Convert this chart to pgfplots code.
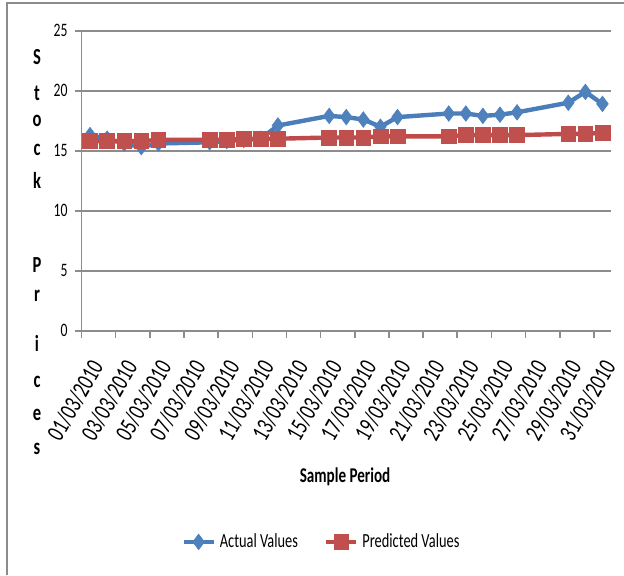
\documentclass[border=0pt]{standalone}
\usepackage{pgfplots}
\pgfplotsset{compat=1.18}
\usepackage{fontspec}
\setmainfont{Carlito}[FakeStretch=0.72]
\definecolor{actual}{HTML}{4A7EBB}
\definecolor{actualm}{HTML}{4F81BD}
\definecolor{pred}{HTML}{BE4B48}
\definecolor{predm}{HTML}{C0504D}
\definecolor{gridc}{HTML}{8C8C8C}
\begin{document}
\begin{tikzpicture}
\useasboundingbox (0,0) rectangle (312pt,287.5pt);
\draw[gridc, line width=1pt] (3.3pt,0pt) -- (3.3pt,286pt) -- (312pt,286pt);
\begin{axis}[
  at={(40.75pt,122.15pt)}, anchor=south west,
  scale only axis, width=264.75pt, height=150pt,
  xmin=0.5, xmax=31.5, ymin=0, ymax=25,
  axis x line*=bottom, axis y line*=left,
  axis line style={gridc, line width=0.8pt},
  tick align=outside, major tick length=3.5pt,
  tick style={gridc, line width=0.8pt},
  xtick={0.5,2.5,...,30.5}, xticklabels={},
  extra x ticks={1,3,...,31},
  extra x tick labels={01/03/2010,03/03/2010,05/03/2010,07/03/2010,09/03/2010,11/03/2010,13/03/2010,15/03/2010,17/03/2010,19/03/2010,21/03/2010,23/03/2010,25/03/2010,27/03/2010,29/03/2010,31/03/2010},
  extra x tick style={major tick length=0pt, grid=none,
    tick label style={xshift=4pt, yshift=-15pt, rotate=60, anchor=east, inner sep=1pt, font=\fontsize{12.5}{14}\selectfont}},
  ytick={0,5,...,25},
  ymajorgrids, major grid style={gridc, line width=0.8pt},
  y tick label style={font=\fontsize{9.5}{11}\selectfont},
  /pgf/number format/assume math mode=true,
  legend style={at={(0.455,-0.704)}, anchor=center, draw=none, fill=none,
    legend columns=2, font=\fontsize{10}{12}\selectfont,
    /tikz/every even column/.append style={column sep=11pt}},
  legend image code/.code={\draw[mark repeat=2,mark phase=2,#1] plot coordinates {(0pt,0pt) (7.5pt,0pt) (15pt,0pt)};},
]
\addplot[actual, line width=2.2pt, mark=diamond*, mark size=3.9pt,
  mark options={fill=actualm, draw=actualm, line width=0.3pt}] coordinates {
(1,16.3) (2,16.0) (3,15.6) (4,15.3) (5,15.6)
(8,15.7) (9,15.8) (10,15.9) (11,16.0) (12,17.1)
(15,17.9) (16,17.8) (17,17.6) (18,17.0) (19,17.8)
(22,18.1) (23,18.1) (24,17.9) (25,18.0) (26,18.2)
(29,19.0) (30,19.9) (31,18.9)
};
\addlegendentry{Actual Values}
\addplot[pred, line width=2.2pt, mark=square*, mark size=3.7pt,
  mark options={fill=predm, draw=predm, line width=0.3pt}] coordinates {
(1,15.8) (2,15.8) (3,15.8) (4,15.8) (5,15.9)
(8,15.9) (9,15.9) (10,16.0) (11,16.0) (12,16.0)
(15,16.1) (16,16.1) (17,16.1) (18,16.2) (19,16.2)
(22,16.2) (23,16.3) (24,16.3) (25,16.3) (26,16.3)
(29,16.4) (30,16.4) (31,16.5)
};
\addlegendentry{Predicted Values}
\end{axis}
\begin{scope}[every node/.style={font=\bfseries\fontsize{11.5}{12}\selectfont, inner sep=0pt}]
\node at (18.5pt,259pt) {S};
\node at (18.5pt,241pt) {t};
\node at (18.5pt,227pt) {o};
\node at (18.5pt,212.5pt) {c};
\node at (18.5pt,197.5pt) {k};
\node at (18.5pt,155pt) {P};
\node at (18.5pt,139.5pt) {r};
\node at (18.5pt,116pt) {i};
\node at (18.5pt,96.5pt) {c};
\node at (18.5pt,80pt) {e};
\node at (18.5pt,63pt) {s};
\node[font=\bfseries\fontsize{10.5}{12}\selectfont] at (172.5pt,49pt) {Sample Period};
\end{scope}
\end{tikzpicture}
\end{document}
